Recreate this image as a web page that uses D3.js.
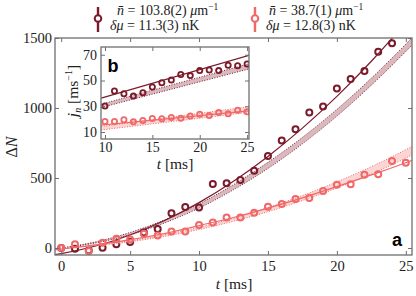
<!DOCTYPE html>
<html>
<head>
<meta charset="utf-8">
<script src="https://cdn.jsdelivr.net/npm/d3@7/dist/d3.min.js"></script>
<style>
  body { margin: 0; background: #fff; }
</style>
</head>
<body>
<div id="chart"></div>
<script>
// main panel (a): ΔN vs t
const tPts = d3.range(0, 26);
const darkPts = [0, -5, -18, 2, 26, 43, 110, 135, 248, 293, 290, 457, 462, 486, 552, 657, 767, 848, 967, 1010, 1140, 1207, 1264, 1402, 1462];
const lightPts = [0, 26, -21, 38, 66, 60, 102, 89, 117, 117, 164, 183, 217, 217, 252, 295, 314, 350, 357, 407, 452, 455, 524, 526, 621, 609];

// fit curves, read at these times
const tFit = [-0.5, 0, 2.5, 5, 7.5, 10, 12.5, 15, 17.5, 20, 22.5, 25, 25.5];
const darkFit = [-48, -40, 14, 93, 196, 324, 477, 654, 856, 1083, 1334, 1611, 1669];
const darkBand = [-6, 0, 40, 103, 190, 300, 434, 590, 767, 966, 1188, 1430, 1480];
const darkBandHalf = [0, 0, 4, 8, 11, 15, 18, 22, 23, 24, 25, 26, 26];
const lightFit = [-14, -8, 22, 60, 103, 160, 218, 285, 358, 438, 522, 609, 628];
const lightBand = [-3, 0, 19, 49, 89, 140, 202, 274, 357, 450, 555, 672, 698];
const lightBandHalf = [0, 0, 2, 4, 6, 8, 11, 15, 18, 22, 26, 30, 30];

const xTicks = [0, 5, 10, 15, 20, 25];
const yTicks = [0, 500, 1000, 1500];

// inset (b): j_n vs t
const tIn = d3.range(10, 26);
const darkIn = [30.2, 41.8, 39.7, 37.9, 40.5, 44.9, 48.2, 50.3, 54.6, 53.8, 57.7, 58.2, 57.7, 61.8, 61.5, 62.8];
const lightIn = [18.2, 18.2, 19.5, 17.9, 19.0, 20.5, 20.3, 21.3, 20.8, 22.5, 23.8, 22.8, 25.1, 24.1, 27.0, 25.7];
const tFitIn = [9.6, 25.2];
const darkFitIn = [36.3, 69.5];
const darkBandIn = [30.3, 61];
const darkBandInHalf = [1.3, 2];
const lightFitIn = [15.4, 26.5];
const lightBandIn = [12.9, 27.5];
const lightBandInHalf = [1.3, 2.2];

const xTicksIn = [10, 15, 20, 25];
const yTicksIn = [10, 30, 50, 70];

const DARK = "#7b1a2b", LIGHT = "#f06868";
const DARK_FILL = "#d4adb3", LIGHT_FILL = "#fbcfcd";
const FRAME = "#6f6f6f";
const SERIF = "'Liberation Serif', 'DejaVu Serif', serif";
const SANS = "'Liberation Sans', Arial, sans-serif";

const svg = d3.select("#chart").append("svg")
    .attr("width", 416).attr("height", 296)
    .style("font-family", SERIF);

// draws one panel, returns scales + group
function panel(g, box, xDom, yDom, xt, yt, pad, fs) {
    const x = d3.scaleLinear().domain(xDom).range([box.l, box.r]);
    const y = d3.scaleLinear().domain(yDom).range([box.b, box.t]);
    g.append("rect")
        .attr("x", box.l).attr("y", box.t)
        .attr("width", box.r - box.l).attr("height", box.b - box.t)
        .attr("fill", "#fff");
    const clipId = "clip" + Math.round(box.l);
    g.append("clipPath").attr("id", clipId).append("rect")
        .attr("x", box.l).attr("y", box.t)
        .attr("width", box.r - box.l).attr("height", box.b - box.t);
    const plot = g.append("g").attr("clip-path", `url(#${clipId})`);

    const fmt = d3.format("d");
    const axes = [
        [d3.axisBottom(x).tickValues(xt).tickFormat(fmt).tickPadding(pad.x), `translate(0,${box.b})`],
        [d3.axisTop(x).tickValues(xt).tickFormat(""), `translate(0,${box.t})`],
        [d3.axisLeft(y).tickValues(yt).tickFormat(fmt).tickPadding(pad.y), `translate(${box.l},0)`],
        [d3.axisRight(y).tickValues(yt).tickFormat(""), `translate(${box.r},0)`]
    ];
    axes.forEach(([ax, tr]) => {
        const a = g.append("g").attr("transform", tr)
            .call(ax.tickSize(-4).tickSizeOuter(0))
            .attr("font-family", SERIF).attr("font-size", fs);
        a.select(".domain").remove();
        a.selectAll("line").attr("stroke", FRAME).attr("stroke-width", 1);
        a.selectAll("text").attr("fill", "#222");
    });
    return { x, y, plot, box };
}

function frame(g, box) {
    g.append("rect")
        .attr("x", box.l).attr("y", box.t)
        .attr("width", box.r - box.l).attr("height", box.b - box.t)
        .attr("fill", "none").attr("stroke", FRAME).attr("stroke-width", 1.3);
}

function drawSeries(p, ts, fit, band, half, tp, pts, color, fill, r, sw) {
    const { x, y, plot } = p;
    const rows = ts.map((t, i) => ({ t, f: fit[i], c: band[i], h: half[i] }));
    const curve = d3.curveMonotoneX;
    plot.append("path").datum(rows)
        .attr("d", d3.area().curve(curve).x(d => x(d.t))
            .y0(d => y(d.c - d.h)).y1(d => y(d.c + d.h)))
        .attr("fill", fill).attr("opacity", 0.85);
    [-1, 1].forEach(s => {
        plot.append("path").datum(rows)
            .attr("d", d3.line().curve(curve).x(d => x(d.t)).y(d => y(d.c + s * d.h)))
            .attr("fill", "none").attr("stroke", color).attr("stroke-width", 1)
            .attr("stroke-dasharray", "1,1.6");
    });
    plot.append("path").datum(rows)
        .attr("d", d3.line().curve(curve).x(d => x(d.t)).y(d => y(d.f)))
        .attr("fill", "none").attr("stroke", color).attr("stroke-width", 1.2);
    plot.selectAll(null).data(pts.map((v, i) => ({ t: tp[i], v })))
        .enter().append("circle")
        .attr("cx", d => x(d.t)).attr("cy", d => y(d.v)).attr("r", r)
        .attr("fill", "none").attr("stroke", color).attr("stroke-width", sw);
}

function label(g, x, y, html, size, extra) {
    const t = g.append("text").attr("x", x).attr("y", y)
        .attr("font-family", SERIF).attr("font-size", size).attr("fill", "#222")
        .html(html);
    if (extra) extra(t);
    return t;
}

// ---- main panel
const gMain = svg.append("g");
const main = panel(gMain, { l: 55, r: 412, t: 38, b: 255 }, [-0.45, 25.45], [-50, 1500],
    xTicks, yTicks, { x: 6, y: 3 }, 14.5);
drawSeries(main, tFit, darkFit, darkBand, darkBandHalf, tPts, darkPts, DARK, DARK_FILL, 3, 2);
drawSeries(main, tFit, lightFit, lightBand, lightBandHalf, tPts, lightPts, LIGHT, LIGHT_FILL, 3, 2);
frame(gMain, main.box);

label(gMain, 234, 289, '<tspan font-style="italic">t</tspan> [ms]', 15.5,
    t => t.attr("text-anchor", "middle"));
label(gMain, 0, 0, 'Δ<tspan font-style="italic">N</tspan>', 16,
    t => t.attr("text-anchor", "middle").attr("transform", "translate(17,147) rotate(-90)"));
gMain.append("text").attr("x", 397).attr("y", 246).attr("text-anchor", "middle")
    .attr("font-family", SANS).attr("font-weight", "bold").attr("font-size", 18)
    .attr("fill", "#000").text("a");

// ---- inset
const gIn = svg.append("g");
const inset = panel(gIn, { l: 101, r: 249, t: 47, b: 139 }, [9.58, 25.2], [4.6, 76],
    xTicksIn, yTicksIn, { x: 3, y: 4 }, 14);
drawSeries(inset, tFitIn, darkFitIn, darkBandIn, darkBandInHalf, tIn, darkIn, DARK, DARK_FILL, 2.6, 1.8);
drawSeries(inset, tFitIn, lightFitIn, lightBandIn, lightBandInHalf, tIn, lightIn, LIGHT, LIGHT_FILL, 2.6, 1.8);
frame(gIn, inset.box);

gIn.append("text").attr("x", 113).attr("y", 72).attr("text-anchor", "middle")
    .attr("font-family", SANS).attr("font-weight", "bold").attr("font-size", 18)
    .attr("fill", "#000").text("b");
label(gIn, 175, 169, '<tspan font-style="italic">t</tspan> [ms]', 15.5,
    t => t.attr("text-anchor", "middle"));
label(gIn, 0, 0,
    '<tspan font-style="italic">j</tspan><tspan font-style="italic" font-size="10" dy="3">n</tspan><tspan dy="-3"> [ms</tspan><tspan font-size="10" dy="-6">−1</tspan><tspan dy="6">]</tspan>',
    15.5, t => t.attr("text-anchor", "middle").attr("transform", "translate(78,91) rotate(-90)"));

// ---- legend
const legend = [
    { x: 98, color: DARK, n: "103.8(2)", mu: "11.3(3)", tx1: 117, tx2: 110 },
    { x: 255, color: LIGHT, n: "38.7(1)", mu: "12.8(3)", tx1: 269, tx2: 266 }
];
legend.forEach(d => {
    svg.append("line").attr("x1", d.x).attr("x2", d.x).attr("y1", 7).attr("y2", 32)
        .attr("stroke", d.color).attr("stroke-width", 2.4);
    svg.append("circle").attr("cx", d.x).attr("cy", 18.5).attr("r", 3.3)
        .attr("fill", "#fff").attr("stroke", d.color).attr("stroke-width", 2);
    label(svg, d.tx1, 14.5,
        `<tspan font-style="italic">n̄</tspan> = ${d.n} <tspan font-style="italic">μ</tspan>m<tspan font-size="9.5" dy="-5">−1</tspan>`, 14);
    label(svg, d.tx2, 30, `<tspan font-style="italic">δμ</tspan> = ${d.mu} nK`, 14);
});
</script>
</body>
</html>
